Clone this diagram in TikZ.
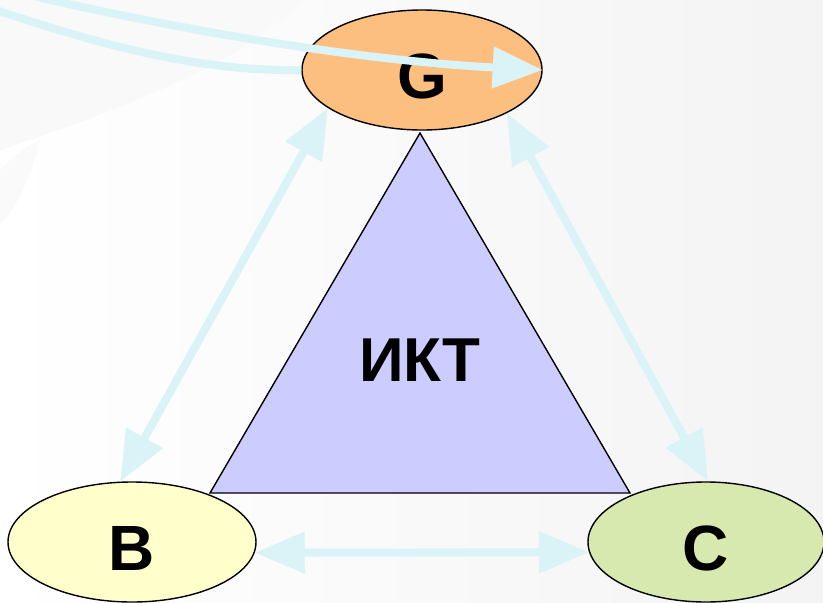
\documentclass[tikz,border=0pt]{standalone}
\usepackage{fontspec}
\setmainfont{Liberation Sans}
\usetikzlibrary{shapes.geometric,arrows.meta}
\definecolor{linkcyan}{HTML}{D9F3F7}
\definecolor{gfill}{HTML}{FDBF80}
\definecolor{bfill}{HTML}{FFFFCC}
\definecolor{cfill}{HTML}{D8E9B0}
\definecolor{ictfill}{HTML}{CCCCFF}

\begin{document}
\begin{tikzpicture}[x=1pt,y=-1pt,
  part/.style={ellipse,draw=black,line width=1.4pt,minimum width=240pt,minimum height=120pt,
    inner sep=0pt,text height=56pt,text depth=0pt,font=\fontsize{64}{64}\selectfont\bfseries},
  link/.style={linkcyan,line width=8pt,{Triangle[length=50pt,width=40pt]}-{Triangle[length=50pt,width=40pt]}},
  flow/.style={linkcyan,line width=8pt}]
  \useasboundingbox (0,0) rectangle (823,603);
  % Shade everything
  \shade[left color=white,right color=gray!9] (0,0) rectangle (823,603);
  \fill[gray!5] (0,0) -- (300,0) .. controls (250,60) and (120,110) .. (0,150) -- cycle;
  \fill[gray!4] (0,170) .. controls (20,150) and (30,145) .. (40,140) .. controls (30,180) and (15,210) .. (0,225) -- cycle;
  % Triangle
  \filldraw[fill=ictfill,draw=black,line width=1.4pt] (420,133) -- (630,493) -- (210,493) -- cycle;
  \node[font=\fontsize{62}{62}\selectfont\bfseries] (ict) at (420,360) {ИКТ};
  % Ellipses
  \node[part,fill=gfill] (G) at (422,70) {G};
  \node[part,fill=bfill,minimum width=248pt] (B) at (132,542) {B};
  \node[part,fill=cfill,minimum width=236pt] (C) at (706,542) {C};
  % Incoming curves
  \coordinate (inlow) at (-10,8);
  \coordinate (inhigh) at (0,-12);
  \draw[flow] (inlow) .. controls (100,45) and (200,72) .. (G.west);
  \draw[flow,-{Triangle[length=50pt,width=40pt]}] (inhigh) .. controls (150,25) and (350,60) .. (G.east);
  % Links
  \draw[link] (G.202) -- (B.101);
  \draw[link] (G.333) -- (C.88);
  \draw[link] (B.355) -- (C.185);
\end{tikzpicture}
\end{document}
